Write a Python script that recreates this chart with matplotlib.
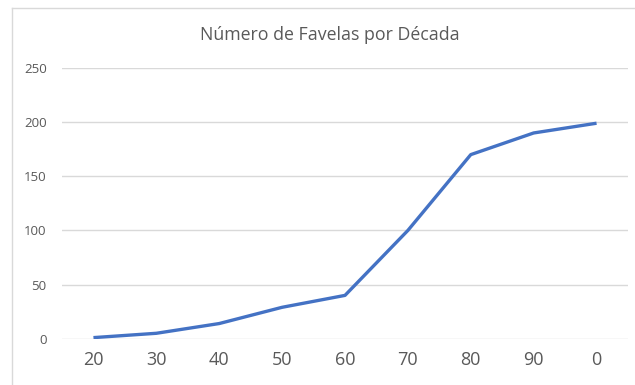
import matplotlib
matplotlib.use('Agg')
from matplotlib import pyplot as plt
from matplotlib.lines import Line2D

plt.rcParams['font.family'] = ['Open Sans', 'DejaVu Sans']

decades = ['20', '30', '40', '50', '60', '70', '80', '90', '0']
favelas = [1, 5, 14, 29, 40, 100, 170, 190, 199]
yTicks = [0, 50, 100, 150, 200, 250]

textColor = '#595959'
gridColor = '#D9D9D9'
lineColor = '#4472C4'

fig = plt.figure(figsize=(6.35, 3.85), dpi=100)
ax = fig.add_axes([62/635, 1 - 338.7/385, (628 - 62)/635, (338.7 - 68)/385])

x = range(len(decades))
ax.plot(x, favelas, color=lineColor, linewidth=2.4, solid_capstyle='butt', zorder=3)

ax.set_xlim(-0.5, len(decades) - 0.5)
ax.set_ylim(0, 250)
ax.set_xticks(list(x))
ax.set_xticklabels(decades)
ax.set_yticks(yTicks)

#Horizontal gridlines only, no frame
ax.grid(axis='y', color=gridColor, linewidth=1.0)
ax.set_axisbelow(True)
for side in ax.spines:
    ax.spines[side].set_visible(False)

ax.tick_params(axis='both', length=0)
ax.tick_params(axis='y', labelsize=9.5, labelcolor=textColor, pad=11)
ax.tick_params(axis='x', labelsize=13, labelcolor=textColor, pad=9)

fig.text(330/635, 1 - 35/385, 'Número de Favelas por Década', ha='center', va='center',
         fontsize=12.8, color=textColor)

#Chart area outline (top and left edges)
fig.add_artist(Line2D([12/635, 1], [1 - 8/385, 1 - 8/385], color=gridColor, linewidth=1.0,
                      transform=fig.transFigure))
fig.add_artist(Line2D([12/635, 12/635], [0, 1 - 8/385], color=gridColor, linewidth=1.0,
                      transform=fig.transFigure))

plt.savefig('out.png', dpi=100)
